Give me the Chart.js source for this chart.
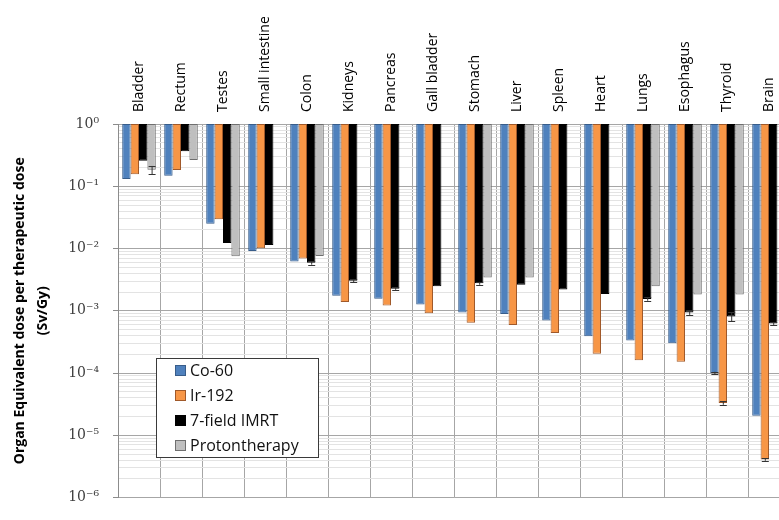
<!DOCTYPE html>
<html lang="en">
<head>
<meta charset="UTF-8">
<script src="https://cdn.jsdelivr.net/npm/chart.js"></script>
<title>Organ equivalent dose</title>
<style>
    html, body {
        margin: 0;
        padding: 0;
        background: #fff;
        overflow: hidden;
    }
    .wrap {
        width: 800px;
        height: 520px;
    }
</style>
</head>
<body>
<div class="wrap">
    <canvas id="doseChart" width="800" height="520"></canvas>
</div>
<script>
    // organs along the top axis
    const organs = ['Bladder', 'Rectum', 'Testes', 'Small intestine', 'Colon', 'Kidneys', 'Pancreas',
        'Gall bladder', 'Stomach', 'Liver', 'Spleen', 'Heart', 'Lungs', 'Esophagus', 'Thyroid', 'Brain'];

    // equivalent dose per therapeutic dose (Sv/Gy)
    const co60 = [0.131, 0.147, 0.0249, 0.0091, 0.0062, 1.75e-3, 1.56e-3, 1.26e-3, 9.4e-4, 8.9e-4,
        7.0e-4, 3.9e-4, 3.34e-4, 3.0e-4, 1.0e-4, 2.06e-5];
    const ir192 = [0.156, 0.182, 0.0294, 0.0101, 0.0069, 1.38e-3, 1.22e-3, 9.1e-4, 6.4e-4, 5.9e-4,
        4.4e-4, 2.04e-4, 1.61e-4, 1.52e-4, 3.3e-5, 4.1e-6];
    const imrt = [0.256, 0.364, 0.0123, 0.0114, 0.0059, 3.05e-3, 2.27e-3, 2.47e-3, 2.77e-3, 2.61e-3,
        2.2e-3, 1.86e-3, 1.55e-3, 9.4e-4, 8.1e-4, 6.24e-4];
    const proton = [0.184, 0.265, 0.0075, null, 0.0076, null, null, null, 3.42e-3, 3.42e-3,
        null, null, 2.47e-3, 1.83e-3, 1.83e-3, null];

    // uncertainties (same units), null where none is drawn
    const co60Err = [null, null, null, null, null, null, null, null, null, null, null, null, null, null, 0.05e-4, null];
    const ir192Err = [null, null, null, null, null, null, null, null, null, null, null, null, null, null, 0.2e-5, 0.2e-6];
    const imrtErr = [null, null, null, null, 0.0004, 0.2e-3, 0.1e-3, null, 0.15e-3, null, null, null, 0.1e-3, 0.8e-4, 1.3e-4, 0.3e-4];
    const protonErr = [0.028, null, null, null, null, null, null, null, null, null, null, null, null, null, null, null];

    const yTicks = [];
    for (let e = -6; e < 0; e++) {
        for (let m = 1; m < 10; m++) yTicks.push(m * Math.pow(10, e));
    }
    yTicks.push(1);

    const sup = { '-': '\u207B', '0': '\u2070', '1': '\u00B9', '2': '\u00B2', '3': '\u00B3', '4': '\u2074',
        '5': '\u2075', '6': '\u2076', '7': '\u2077', '8': '\u2078', '9': '\u2079' };
    function powLabel(v) {
        const e = Math.round(Math.log10(v));
        return '10' + String(e).split('').map(c => sup[c]).join('');
    }
    function isDecade(v) {
        const l = Math.log10(v);
        return Math.abs(l - Math.round(l)) < 1e-9;
    }

    // bars hang from 10^0 down to the value
    const hang = arr => arr.map(v => v == null ? null : [v, 1]);

    const series = [
        { label: 'Co-60', values: co60, errors: co60Err, fill: '#4F81BD', edge: '#385D8A' },
        { label: 'Ir-192', values: ir192, errors: ir192Err, fill: '#F79646', edge: '#A0592A' },
        { label: '7-field IMRT', values: imrt, errors: imrtErr, fill: '#000000', edge: '#000000' },
        { label: 'Protontherapy', values: proton, errors: protonErr, fill: '#BFBFBF', edge: '#6F6F6F' }
    ];

    const errorBars = {
        id: 'errorBars',
        afterDatasetsDraw(chart) {
            const ctx = chart.ctx;
            const y = chart.scales.y;
            ctx.save();
            ctx.beginPath();
            ctx.rect(chart.chartArea.left, chart.chartArea.top, chart.chartArea.width, chart.chartArea.height);
            ctx.clip();
            chart.data.datasets.forEach((ds, di) => {
                const meta = chart.getDatasetMeta(di);
                ds.errors.forEach((err, i) => {
                    const v = ds.values[i];
                    if (err == null || v == null) return;
                    const bar = meta.data[i];
                    const x = bar.x;
                    const y1 = y.getPixelForValue(v + err);
                    const y2 = y.getPixelForValue(Math.max(v - err, 1e-7));
                    ctx.strokeStyle = '#333';
                    ctx.lineWidth = 1;
                    ctx.beginPath();
                    ctx.moveTo(x + 0.5, y1); ctx.lineTo(x + 0.5, y2);
                    ctx.moveTo(x - 3, Math.round(y1) + 0.5); ctx.lineTo(x + 4, Math.round(y1) + 0.5);
                    ctx.moveTo(x - 3, Math.round(y2) + 0.5); ctx.lineTo(x + 4, Math.round(y2) + 0.5);
                    ctx.stroke();
                });
            });
            ctx.restore();
        }
    };

    // boxed legend sitting inside the plot
    const boxLegend = {
        id: 'boxLegend',
        afterDraw(chart, args, opts) {
            const ctx = chart.ctx;
            ctx.save();
            ctx.fillStyle = '#fff';
            ctx.fillRect(opts.x, opts.y, opts.w, opts.h);
            ctx.strokeStyle = '#3a3a3a';
            ctx.lineWidth = 1;
            ctx.strokeRect(opts.x + 0.5, opts.y + 0.5, opts.w, opts.h);
            ctx.font = '16px "Open Sans", sans-serif';
            ctx.textBaseline = 'middle';
            chart.data.datasets.forEach((ds, i) => {
                const cy = opts.y + 13 + i * 25;
                ctx.fillStyle = ds.backgroundColor;
                ctx.fillRect(opts.x + 19, cy - 5, 10, 10);
                ctx.strokeStyle = ds.borderColor;
                ctx.strokeRect(opts.x + 19.5, cy - 5.5, 10, 10);
                ctx.fillStyle = '#111';
                ctx.fillText(ds.label, opts.x + 34, cy);
            });
            ctx.restore();
        }
    };

    const ctx = document.getElementById('doseChart').getContext('2d');

    const chart = new Chart(ctx, {
        type: 'bar',
        data: {
            labels: organs,
            datasets: series.map(s => ({
                label: s.label,
                data: hang(s.values),
                values: s.values,
                errors: s.errors,
                backgroundColor: s.fill,
                borderColor: s.edge,
                borderWidth: 1,
                borderSkipped: false,
                categoryPercentage: 0.8,
                barPercentage: 1.0
            }))
        },
        options: {
            responsive: false,
            animation: false,
            layout: { padding: { left: 0, right: 10, top: 0, bottom: 4 } },
            plugins: {
                legend: { display: false },
                tooltip: { enabled: false },
                boxLegend: { x: 156, y: 358, w: 162, h: 99 }
            },
            scales: {
                x: {
                    position: 'top',
                    offset: true,
                    afterFit: s => { s.height = 124; },
                    grid: { color: '#A6A6A6', offset: true, drawTicks: false },
                    border: { display: false },
                    ticks: {
                        minRotation: 90,
                        maxRotation: 90,
                        autoSkip: false,
                        padding: 12,
                        labelOffset: 17,
                        color: '#000',
                        font: { family: 'Open Sans', size: 14 }
                    }
                },
                y: {
                    type: 'logarithmic',
                    min: 1e-6,
                    max: 1,
                    afterFit: s => { s.width = 118; },
                    afterBuildTicks: s => { s.ticks = yTicks.map(v => ({ value: v })); },
                    border: { color: '#8C8C8C' },
                    grid: {
                        color: c => isDecade(c.tick.value) ? '#A6A6A6' : '#E3E3E3',
                        tickLength: 5,
                        tickColor: c => isDecade(c.tick.value) ? '#8C8C8C' : 'rgba(0,0,0,0)'
                    },
                    ticks: {
                        autoSkip: false,
                        padding: 14,
                        color: '#404040',
                        font: { family: 'DejaVu Serif', size: 14 },
                        callback: v => isDecade(v) ? powLabel(v) : ''
                    },
                    title: {
                        display: true,
                        text: ['Organ Equivalent dose per therapeutic dose', '(Sv/Gy)'],
                        color: '#000',
                        font: { family: 'Open Sans', size: 14, weight: 'bold', lineHeight: 1.65 },
                        padding: { top: 8, bottom: 0 }
                    }
                }
            }
        },
        plugins: [errorBars, boxLegend]
    });
</script>
</body>
</html>
